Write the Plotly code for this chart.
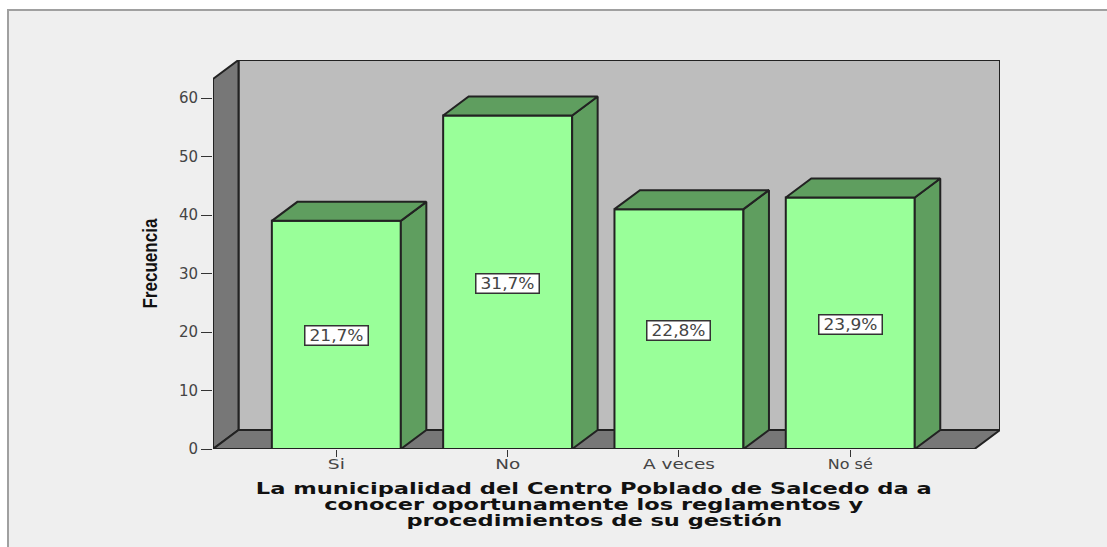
"""Bar chart with a drawn 3D box, SPSS style."""

import json

import plotly.graph_objects as go

categories = ["Si", "No", "A veces", "No sé"]
frecuencia = [39, 57, 41, 43]
porcentajes = ["21,7%", "31,7%", "22,8%", "23,9%"]
y_ticks = [0, 10, 20, 30, 40, 50, 60]
x_title_lines = [
    "La municipalidad del Centro Poblado de Salcedo da a",
    "conocer oportunamente los reglamentos y",
    "procedimientos de su gestión",
]

# page geometry in pixels
WIDTH, HEIGHT = 1107, 547
LEFT, RIGHT, TOP, BOTTOM = 213, 1000, 60, 449
PLOT_W, PLOT_H = RIGHT - LEFT, BOTTOM - TOP

X_RANGE = [-0.72, 3.874]
Y_RANGE = [0, 66.5]
BAR_W = 0.753
DEPTH_X = 25.5 / 171.3
DEPTH_Y = 19 / 5.85

EDGE = "#222222"
EDGE_W = 2
FRONT = "#99FF99"
SIDE = "#5F9E5F"
WALL = "#BDBDBD"
DARK = "#777777"
TEXT = "#444444"

# the source picture is stretched sideways, so text is fitted to its measured length
TEXT_LENGTHS = {
    "La municipalidad del Centro Poblado de Salcedo da a": 676,
    "conocer oportunamente los reglamentos y": 539,
    "procedimientos de su gestión": 376,
    "Frecuencia": 90,
    "Si": 17,
    "No": 25,
    "A veces": 72,
    "No sé": 45,
    "21,7%": 54,
    "31,7%": 54,
    "22,8%": 54,
    "23,9%": 54,
}


def polygon(points, color):
    return go.Scatter(
        x=[p[0] for p in points] + [points[0][0]],
        y=[p[1] for p in points] + [points[0][1]],
        mode="lines",
        fill="toself",
        fillcolor=color,
        line=dict(color=EDGE, width=EDGE_W),
        showlegend=False,
        hoverinfo="skip",
    )


def box_shape(points, color):
    path = "M " + " L ".join(f"{x},{y}" for x, y in points) + " Z"
    return dict(
        type="path", path=path, xref="x", yref="y", layer="below",
        fillcolor=color, line=dict(color=EDGE, width=EDGE_W),
    )


fig = go.Figure()
fig.add_trace(
    go.Bar(
        x=list(range(len(categories))),
        y=frecuencia,
        width=BAR_W,
        marker=dict(color=FRONT, line=dict(color=EDGE, width=EDGE_W)),
        showlegend=False,
    )
)

for i, value in enumerate(frecuencia):
    x0, x1 = i - BAR_W / 2, i + BAR_W / 2
    fig.add_trace(polygon(
        [(x1, 0), (x1 + DEPTH_X, DEPTH_Y), (x1 + DEPTH_X, value + DEPTH_Y), (x1, value)], SIDE
    ))
    fig.add_trace(polygon(
        [(x0, value), (x0 + DEPTH_X, value + DEPTH_Y), (x1 + DEPTH_X, value + DEPTH_Y), (x1, value)], SIDE
    ))
    fig.add_annotation(
        x=i, y=value / 2, yshift=-1, text=porcentajes[i], showarrow=False,
        width=60, height=16,
        font=dict(family="DejaVu Sans", size=16, color=TEXT),
        bgcolor="white", bordercolor="#333333", borderwidth=1.5, borderpad=1,
    )

# box: back wall, left wall, floor
back_x0 = X_RANGE[0] + DEPTH_X
back_x1 = X_RANGE[1]
top = Y_RANGE[1]
shapes = [
    dict(
        type="rect", xref="paper", yref="paper", layer="below",
        x0=(8 - LEFT) / PLOT_W, x1=(WIDTH + 10 - LEFT) / PLOT_W,
        y0=(BOTTOM - HEIGHT - 10) / PLOT_H, y1=(BOTTOM - 10) / PLOT_H,
        fillcolor="#EFEFEF", line=dict(color="#A0A0A0", width=2),
    ),
    box_shape([(back_x0, DEPTH_Y), (back_x1, DEPTH_Y), (back_x1, top), (back_x0, top)], WALL),
    box_shape([(X_RANGE[0], 0), (back_x0, DEPTH_Y), (back_x0, top), (X_RANGE[0], top - DEPTH_Y)], DARK),
    box_shape([(X_RANGE[0], 0), (back_x0, DEPTH_Y), (back_x1, DEPTH_Y), (back_x1 - DEPTH_X, 0)], DARK),
]

for line, y_px in zip(x_title_lines, [489, 505, 521]):
    fig.add_annotation(
        xref="paper", yref="paper", x=(594 - LEFT) / PLOT_W, xanchor="center",
        y=0, yshift=BOTTOM - y_px, yanchor="middle", text=line, showarrow=False,
        font=dict(family="DejaVu Sans", size=15, color="#111111", weight="bold"),
    )

fig.add_annotation(
    xref="paper", yref="paper", x=(149 - LEFT) / PLOT_W, xanchor="center",
    y=(BOTTOM - 264) / PLOT_H, yanchor="middle",
    text="Frecuencia", textangle=-90, showarrow=False,
    font=dict(family="Liberation Sans", size=21, color="#111111", weight="bold"),
)

fig.update_layout(
    width=WIDTH,
    height=HEIGHT,
    margin=dict(l=LEFT, r=WIDTH - RIGHT, t=TOP, b=HEIGHT - BOTTOM, pad=0),
    paper_bgcolor="white",
    plot_bgcolor="rgba(0,0,0,0)",
    shapes=shapes,
    xaxis=dict(
        range=X_RANGE, tickvals=list(range(len(categories))), ticktext=categories,
        ticks="outside", ticklen=7, tickcolor="#333333", showgrid=False, zeroline=False,
        ticklabelstandoff=-5,
        tickfont=dict(family="DejaVu Sans", size=14, color=TEXT),
    ),
    yaxis=dict(
        range=Y_RANGE, tickvals=y_ticks, ticks="outside", ticklen=11, tickcolor="#333333",
        showgrid=False, zeroline=False,
        tickfont=dict(family="DejaVu Sans", size=15, color=TEXT),
    ),
)

fit_text = """
var lengths = %s;
document.body.style.margin = '0';
document.querySelectorAll('svg text').forEach(function (el) {
  var length = lengths[el.textContent];
  if (length) {
    el.setAttribute('textLength', length);
    el.setAttribute('lengthAdjust', 'spacingAndGlyphs');
  }
});
""" % json.dumps(TEXT_LENGTHS)

fig.write_html("out.html", config={"displayModeBar": False}, post_script=fit_text)
